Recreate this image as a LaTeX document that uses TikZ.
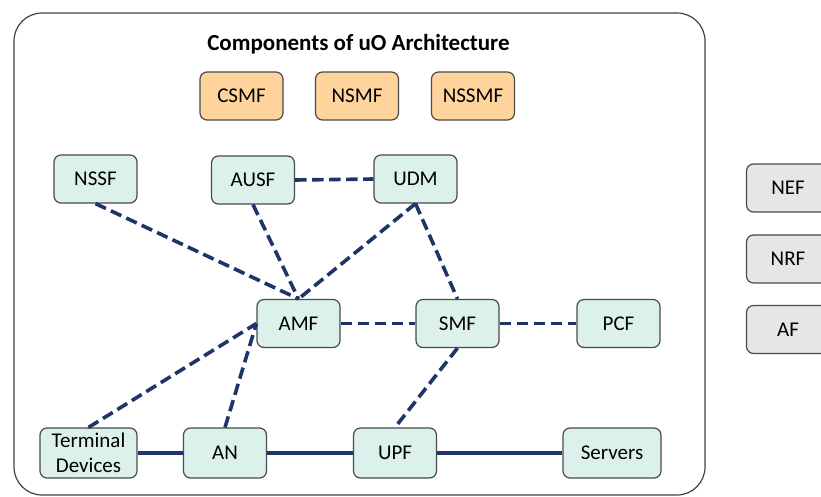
\documentclass[tikz,border=0pt]{standalone}
\usepackage{fontspec}
\setmainfont{Carlito}
\definecolor{navy}{HTML}{1F3469}
\definecolor{boxline}{HTML}{4A4A4A}
\definecolor{nfgreen}{HTML}{DCF1EC}
\definecolor{mforange}{HTML}{FFD39C}
\definecolor{extgray}{HTML}{E6E6E6}
\definecolor{frameline}{HTML}{404040}
\tikzset{
  box/.style={draw=boxline, line width=1.2pt, rounded corners=7pt,
    minimum width=83pt, minimum height=48pt, inner sep=0pt,
    font=\fontsize{21}{25}\selectfont, text=black, align=center},
  nf/.style={box, fill=nfgreen},
  mf/.style={box, fill=mforange},
  ext/.style={box, fill=extgray},
  link/.style={draw=navy, line width=3.6pt, dash pattern=on 11.5pt off 5.5pt},
  wire/.style={draw=navy, line width=4pt}
}
\begin{document}
\begin{tikzpicture}[x=1pt, y=-1pt]
  \useasboundingbox (0,0) rectangle (821,496);

  % outer frame
  \draw[frameline, line width=1.2pt, rounded corners=28pt] (14,13) rectangle (705,495);
  \node[font=\bfseries\fontsize{23}{27}\selectfont, anchor=base] (title) at (358.5,50) {Components of uO Architecture};

  % management functions
  \node[mf] (csmf)  at (241.5,96) {CSMF};
  \node[mf] (nsmf)  at (357,96)   {NSMF};
  \node[mf] (nssmf) at (473,96)   {NSSMF};

  % external functions
  \node[ext] (nef) at (788,188) {NEF};
  \node[ext] (nrf) at (788,259) {NRF};
  \node[ext] (af)  at (788,329.5) {AF};

  % network functions
  \node[nf] (nssf) at (95.5,179) {NSSF};
  \node[nf] (ausf) at (253,180)  {AUSF};
  \node[nf] (udm)  at (415.5,179) {UDM};
  \node[nf] (amf)  at (298.5,323.5) {AMF};
  \node[nf] (smf)  at (457.5,323.5) {SMF};
  \node[nf] (pcf)  at (618.5,323.5) {PCF};

  % user plane
  \node[nf, minimum width=97pt, minimum height=50pt] (term) at (88.5,453) {Terminal\\Devices};
  \node[nf, minimum height=50pt] (an)  at (225,453) {AN};
  \node[nf, minimum height=50pt] (upf) at (395,453) {UPF};
  \node[nf, minimum width=98pt, minimum height=50pt] (srv) at (612,453) {Servers};

  % control-plane links
  \draw[link] (ausf.east) -- (udm.west);
  \draw[link] (nssf.south) -- (amf.north);
  \draw[link] (ausf.south) -- (amf.north);
  \draw[link] (udm.south) -- (amf.north);
  \draw[link] (udm.south) -- (smf.north);
  \draw[link] (amf.east) -- (smf.west);
  \draw[link] (smf.east) -- (pcf.west);
  \draw[link] (term.north) -- (amf.west);
  \draw[link] (an.north) -- (amf.west);
  \draw[link] (smf.south) -- (upf.north);

  % user-plane path
  \draw[wire] (term.east) -- (an.west);
  \draw[wire] (an.east) -- (upf.west);
  \draw[wire] (upf.east) -- (srv.west);
\end{tikzpicture}
\end{document}
